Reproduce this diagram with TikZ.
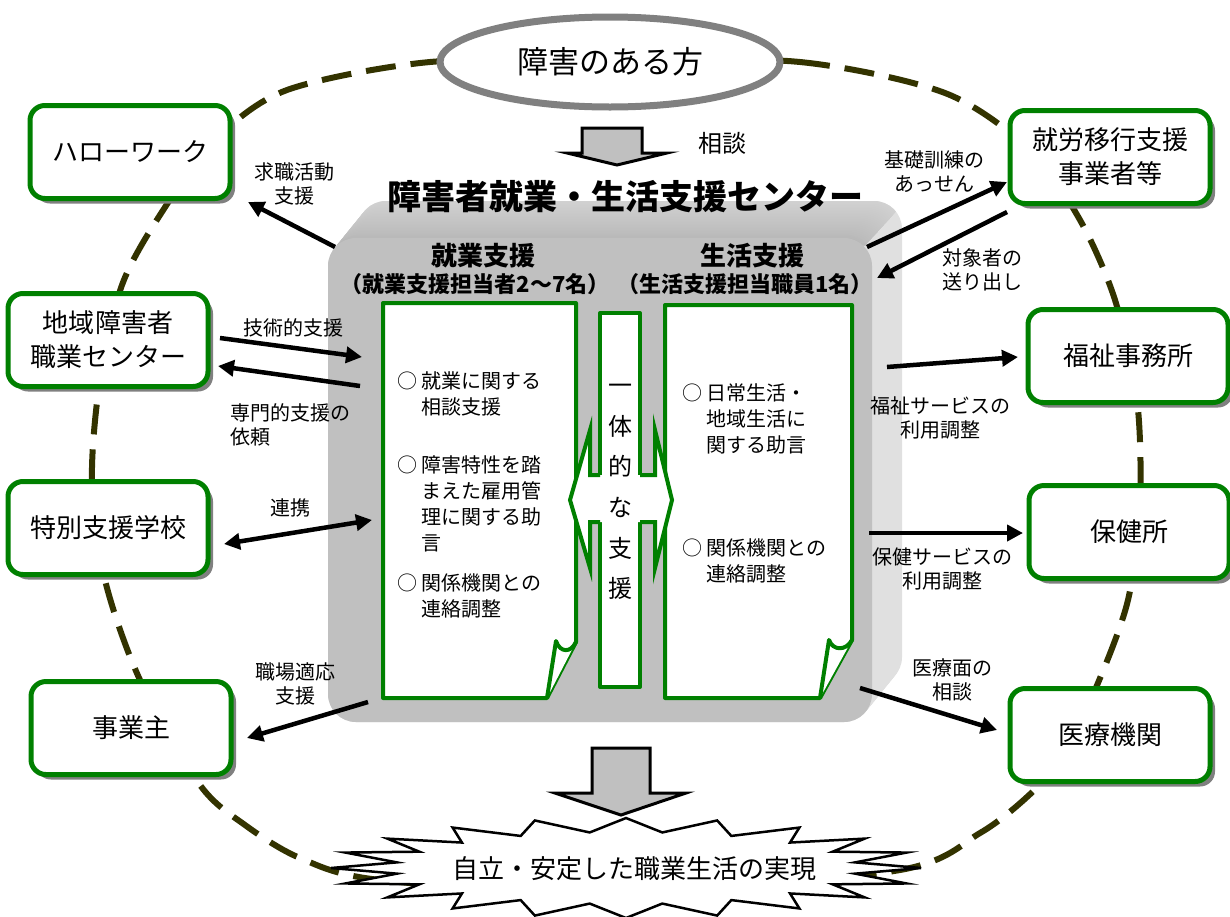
\documentclass[tikz,border=0pt]{standalone}
\usepackage{fontspec}
\setmainfont{Noto Sans CJK JP}
\usetikzlibrary{shapes.geometric,arrows.meta,shadows}
\definecolor{gr}{RGB}{0,128,0}
\definecolor{olv}{RGB}{51,51,0}
\definecolor{pan}{RGB}{192,192,192}
\definecolor{side}{RGB}{224,224,224}
\definecolor{bev}{RGB}{172,172,172}
\newcommand{\fsz}[2]{\fontsize{#1}{#2}\selectfont}
\begin{document}
\begin{tikzpicture}[x=1pt,y=-1pt,
  orgbox/.style={draw=gr, line width=5pt, fill=white, rounded corners=15pt,
    minimum width=200pt, minimum height=93pt, align=center, font=\fsz{26}{34},
    drop shadow={shadow xshift=5pt, shadow yshift=-5pt, fill=gray, opacity=1}},
  dashloop/.style={draw=olv, line width=6pt, dash pattern=on 30pt off 15pt},
  conn/.style={line width=4.5pt, -{Triangle[length=16pt,width=16pt]}},
  dconn/.style={line width=4.5pt, {Triangle[length=16pt,width=16pt]}-{Triangle[length=16pt,width=16pt]}},
  lab/.style={font=\fsz{20}{24}, align=center, inner sep=0pt},
  docln/.style={draw=gr, line width=4pt, fill=white, line join=round},
  item/.style={font=\fsz{20}{26}, anchor=base west, inner sep=0pt},
  ttl/.style={font=\fsz{34}{40}\bfseries, inner sep=0pt},
  blk/.style={draw=black, line width=3pt, fill=pan, line join=miter},
]
\useasboundingbox (0,0) rectangle (1230,916);
\fill[white] (0,0) rectangle (1230,916);

% dashed loop
\draw[dashloop] plot[smooth cycle] coordinates {(612,60) (800,62) (945,93) (1030,150) (1080,220) (1115,300) (1137,400) (1140,500) (1128,600) (1095,690) (1060,760) (1027,797) (980,833) (900,870) (630,895) (380,880) (300,858) (245,825) (200,785) (140,680) (105,580) (92,480) (100,380) (122,285) (160,215) (215,140) (287,90) (430,62)};

% 3D panel
\foreach \i in {0,...,24}{
  \pgfmathsetmacro\dx{30*(1-\i/24)}
  \pgfmathsetmacro\dy{37*(1-\i/24)}
  \fill[side, rounded corners=28pt] ({328+\dx},{238-\dy}) rectangle ({872+\dx},{722-\dy});
}
\begin{scope}
  \clip (300,150) -- (930,150) -- (902,205) -- (865,245) -- (300,245) -- cycle;
  \foreach \i in {0,...,24}{
    \pgfmathsetmacro\dx{30*(1-\i/24)}
    \pgfmathsetmacro\dy{37*(1-\i/24)}
    \pgfmathsetmacro\sh{55+30*\i/24}
    \fill[bev!\sh!white, rounded corners=28pt] ({328+\dx},{238-\dy}) rectangle ({872+\dx},{722-\dy});
  }
\end{scope}
\fill[pan, rounded corners=28pt] (328,238) rectangle (872,722);

% title
\node[ttl] (title) at (625,197) {障害者就業・生活支援センター};

% headers
\node[font=\fsz{26}{30}\bfseries] (h1) at (483,256) {就業支援};
\node[font=\fsz{22}{26}\bfseries] (h1s) at (475,284) {（就業支援担当者2〜7名）};
\node[font=\fsz{26}{30}\bfseries] (h2) at (752,256) {生活支援};
\node[font=\fsz{22}{26}\bfseries] (h2s) at (745,284) {（生活支援担当職員1名）};

% documents
\draw[docln] (383,303) -- (576,303) -- (576,642) -- (547,698) -- (383,698) -- cycle;
\draw[docln] (547,698) -- (556,641) .. controls (560,653) and (571,653) .. (576,642);
\draw[docln] (665,305) -- (852,305) -- (852,640) -- (820,698) -- (665,698) -- cycle;
\draw[docln] (820,698) -- (829,640) .. controls (833,651) and (846,651) .. (852,640);

% middle box and arrows
\draw[docln] (600,313) rectangle (640,687);
\fill[white] (603,475) -- (590,475) -- (590,430) -- (570,500) -- (590,568) -- (590,522) -- (603,522) -- cycle;
\draw[draw=gr, line width=4pt, line join=miter] (600,475) -- (590,475) -- (590,430) -- (570,500) -- (590,568) -- (590,522) -- (600,522);
\fill[white] (637,475) -- (655,475) -- (655,430) -- (672,500) -- (655,568) -- (655,522) -- (637,522) -- cycle;
\draw[draw=gr, line width=4pt, line join=miter] (640,475) -- (655,475) -- (655,430) -- (672,500) -- (655,568) -- (655,522) -- (640,522);
\node[font=\fsz{24}{40.6}, align=center, inner sep=0pt] (ittai) at (620,492) {一\\体\\的\\な\\支\\援};

% items
\node[item] (i1) at (397,388) {\begin{tabular}[t]{@{}l@{\hspace{4pt}}l@{}}○&就業に関する\\&相談支援\end{tabular}};
\node[item] (i2) at (397,472) {\begin{tabular}[t]{@{}l@{\hspace{4pt}}l@{}}○&障害特性を踏\\&まえた雇用管\\&理に関する助\\&言\end{tabular}};
\node[item] (i3) at (397,590) {\begin{tabular}[t]{@{}l@{\hspace{4pt}}l@{}}○&関係機関との\\&連絡調整\end{tabular}};
\node[item] (i4) at (682,400) {\begin{tabular}[t]{@{}l@{\hspace{4pt}}l@{}}○&日常生活・\\&地域生活に\\&関する助言\end{tabular}};
\node[item] (i5) at (682,555) {\begin{tabular}[t]{@{}l@{\hspace{4pt}}l@{}}○&関係機関との\\&連絡調整\end{tabular}};

% organisation boxes
\node[orgbox] (hw) at (130,152) {ハローワーク};
\node[orgbox] (ik) at (1110,157) {就労移行支援\\事業者等};
\node[orgbox] (ch) at (108,340) {地域障害者\\職業センター};
\node[orgbox] (fk) at (1128,356) {福祉事務所};
\node[orgbox] (tb) at (108,528) {特別支援学校};
\node[orgbox] (hk) at (1129,532) {保健所};
\node[orgbox] (jg) at (131,728) {事業主};
\node[orgbox] (ir) at (1110,735) {医療機関};

% connectors
\coordinate (a1s) at (335,247); \coordinate (a1e) at (248,202);
\draw[conn] (a1s) -- (a1e);
\node[lab] (l1) at (294,184) {求職活動\\支援};
\coordinate (a2s) at (867,247); \coordinate (a2e) at (1007,182);
\draw[conn] (a2s) -- (a2e);
\node[lab] (l2) at (934,172) {基礎訓練の\\あっせん};
\coordinate (a3s) at (1007,212); \coordinate (a3e) at (877,278);
\draw[conn] (a3s) -- (a3e);
\node[lab] (l3) at (982,270) {対象者の\\送り出し};
\coordinate (a4s) at (220,338); \coordinate (a4e) at (362,357);
\draw[conn] (a4s) -- (a4e);
\node[lab] (l4) at (293,328) {技術的支援};
\coordinate (a5s) at (360,386); \coordinate (a5e) at (218,366);
\draw[conn] (a5s) -- (a5e);
\node[lab, align=left, anchor=west] (l5) at (230,425) {専門的支援の\\依頼};
\coordinate (a6s) at (224,544); \coordinate (a6e) at (372,520);
\draw[dconn] (a6s) -- (a6e);
\node[lab] (l6) at (290,508) {連携};
\coordinate (a7s) at (368,702); \coordinate (a7e) at (247,738);
\draw[conn] (a7s) -- (a7e);
\node[lab] (l7) at (295,684) {職場適応\\支援};
\coordinate (a8s) at (887,367); \coordinate (a8e) at (1018,357);
\draw[conn] (a8s) -- (a8e);
\node[lab] (l8) at (940,418) {福祉サービスの\\利用調整};
\coordinate (a9s) at (869,533); \coordinate (a9e) at (1023,533);
\draw[conn] (a9s) -- (a9e);
\node[lab] (l9) at (942,569) {保健サービスの\\利用調整};
\coordinate (a10s) at (860,688); \coordinate (a10e) at (997,730);
\draw[conn] (a10s) -- (a10e);
\node[lab] (l10) at (952,680) {医療面の\\相談};

% top ellipse and small arrow
\node[ellipse, draw=gray, line width=7pt, fill=white, minimum width=340pt, minimum height=90pt, font=\fsz{31}{36}] (person) at (610,62) {障害のある方};
\draw[blk] (582,128) -- (642,128) -- (642,153) -- (667,153) -- (617,165) -- (567,153) -- (582,153) -- cycle;
\node[font=\fsz{24}{28}] (soudan) at (722,143) {相談};

% big arrow and star
\draw[blk] (592,748) -- (650,748) -- (650,793) -- (686,793) -- (621,815) -- (555,793) -- (592,793) -- cycle;
\draw[line width=2.5pt, fill=white, line join=miter] plot[samples at={0,...,39}, variable=\k]
  ({626 + ifthenelse(mod(\k,2)==0, 295, 232)*cos(\k*9)}, {868 + ifthenelse(mod(\k,2)==0, 50, 36)*sin(\k*9)}) -- cycle;
\node[font=\fsz{26}{30}, inner sep=0pt] (goal) at (634,869) {自立・安定した職業生活の実現};
\end{tikzpicture}
\end{document}
